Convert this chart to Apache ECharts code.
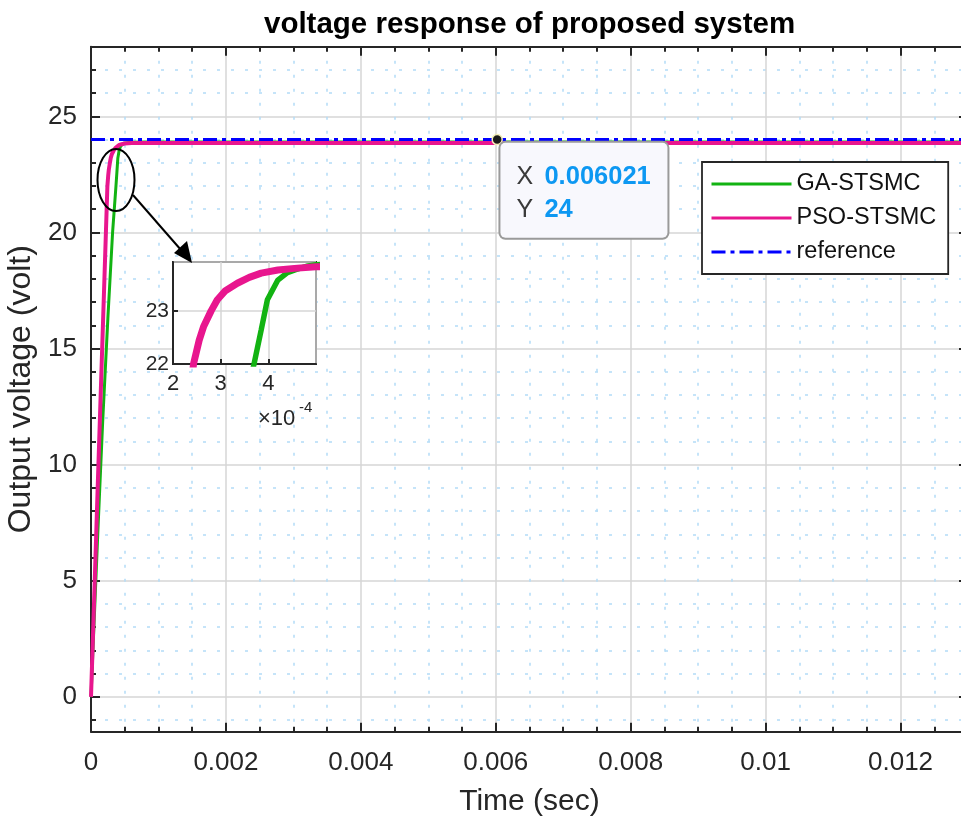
<!DOCTYPE html>
<html>
<head>
<meta charset="utf-8">
<script src="https://cdn.jsdelivr.net/npm/echarts@6/dist/echarts.min.js"></script>
<style>
  html, body { margin: 0; padding: 0; background: #fff; }
  #main { width: 961px; height: 817px; }
</style>
</head>
<body>
<div id="main"></div>
<script>
// values
const gaTime = [0, 0.00005, 0.0001, 0.000173, 0.00025, 0.00032, 0.00037, 0.000385, 0.000398, 0.00042, 0.00044, 0.000456, 0.00048, 0.0005, 0.0006, 0.0008, 0.013];
const gaVolt = [0, 3.5, 7, 11.85, 16.3, 20, 22, 22.64, 23.21, 23.58, 23.72, 23.77, 23.84, 23.87, 23.89, 23.9, 23.9];
const psoTime = [0, 0.00005, 0.0001, 0.00015, 0.0002, 0.000243, 0.000255, 0.000264, 0.00028, 0.000293, 0.00031, 0.000335, 0.00036, 0.000385, 0.00042, 0.000455, 0.0005, 0.0006, 0.0008, 0.013];
const psoVolt = [0, 4.5, 9.1, 13.6, 18.1, 22, 22.45, 22.7, 23.0, 23.21, 23.38, 23.52, 23.63, 23.71, 23.77, 23.8, 23.83, 23.85, 23.85, 23.85];
const refTime = [0, 0.013];
const refVolt = [24, 24];
const seriesNames = ['GA-STSMC', 'PSO-STSMC', 'reference'];
const tipX = 0.006021;
const tipY = 24;

const ink = '#262626';
const font = '"Liberation Sans", Arial, Helvetica, sans-serif';
const pairs = (xs, ys) => xs.map((x, i) => [x, ys[i]]);

const gaData = pairs(gaTime, gaVolt);
const psoData = pairs(psoTime, psoVolt);
const refData = pairs(refTime, refVolt);

const chart = echarts.init(document.getElementById('main'), null, { renderer: 'canvas' });

const frameLine = { show: true, onZero: false, lineStyle: { color: ink, width: 2 } };
const majorGrid = { show: true, lineStyle: { color: '#d6d6d6', width: 1.5 } };
const minorGrid = { show: true, lineStyle: { color: '#b3dcf7', width: 1.5, type: [3, 11] } };

// main x axis (bottom + top copy for the box)
const mainX = {
    type: 'value', gridIndex: 0, min: 0, max: 0.013, interval: 0.002,
    axisLine: frameLine,
    axisTick: { show: true, inside: true, length: 9, lineStyle: { color: ink, width: 2 } },
    minorTick: { show: true, splitNumber: 4, length: 5, lineStyle: { color: ink, width: 2 } },
    axisLabel: { show: true, color: ink, fontSize: 26, margin: 18, fontFamily: font, showMaxLabel: false },
    splitLine: majorGrid,
    minorSplitLine: minorGrid,
    name: 'Time (sec)', nameLocation: 'middle', nameGap: 55,
    nameTextStyle: { color: ink, fontSize: 30, fontFamily: font }
};
const topX = Object.assign({}, mainX, {
    position: 'top', axisLabel: { show: false }, splitLine: { show: false },
    minorSplitLine: { show: false }, name: ''
});
const mainY = {
    type: 'value', gridIndex: 0, min: -1.5, max: 28, splitNumber: 6,
    axisLine: frameLine,
    axisTick: { show: true, inside: true, length: 9, lineStyle: { color: ink, width: 2 } },
    minorTick: { show: true, splitNumber: 5, length: 5, lineStyle: { color: ink, width: 2 } },
    axisLabel: {
        show: true, color: ink, fontSize: 26, margin: 14, fontFamily: font,
        formatter: v => (Math.abs(v % 5) < 1e-9 ? String(v) : '')
    },
    splitLine: majorGrid,
    minorSplitLine: minorGrid,
    name: 'Output voltage (volt)', nameLocation: 'middle', nameGap: 44,
    nameTextStyle: { color: ink, fontSize: 32, fontFamily: font }
};
const rightY = Object.assign({}, mainY, {
    position: 'right', axisLabel: { show: false }, splitLine: { show: false },
    minorSplitLine: { show: false }, name: ''
});

// inset axes
const insetX = {
    type: 'value', gridIndex: 1, min: 0.0002, max: 0.0005, interval: 0.0001, z: 4,
    axisLine: frameLine,
    axisTick: { show: true, inside: true, length: 5, lineStyle: { color: ink, width: 2 } },
    axisLabel: {
        color: ink, fontSize: 22, margin: 9, fontFamily: font, showMaxLabel: false,
        formatter: v => String(Math.round(v * 1e4))
    },
    splitLine: majorGrid
};
const insetY = {
    type: 'value', gridIndex: 1, min: 22, max: 23.92, interval: 1, z: 4,
    axisLine: frameLine,
    axisTick: { show: true, inside: true, length: 5, lineStyle: { color: ink, width: 2 } },
    axisLabel: { color: ink, fontSize: 21, margin: 4, fontFamily: font, showMaxLabel: false },
    splitLine: majorGrid
};

const option = {
    animation: false,
    backgroundColor: '#fff',
    textStyle: { fontFamily: font },
    title: {
        text: 'voltage response of proposed system',
        left: 264, top: 10, padding: 0,
        textStyle: { fontSize: 29.5, fontWeight: 'bold', color: '#000', fontFamily: font }
    },
    legend: {
        data: seriesNames,
        orient: 'vertical', left: 702, top: 162,
        padding: [10, 12, 10, 8], itemGap: 10,
        itemWidth: 80, itemHeight: 14,
        itemStyle: { opacity: 0 },
        lineStyle: { width: 3 },
        backgroundColor: '#fff', borderColor: ink, borderWidth: 1.8,
        textStyle: { fontSize: 23.5, color: '#111', fontFamily: font },
        z: 8
    },
    grid: [
        { left: 91, top: 46.7, width: 877, height: 685, outerBoundsMode: 'none', containLabel: false },
        { left: 173, top: 262, width: 143, height: 102, show: true, backgroundColor: '#fff',
          borderColor: ink, borderWidth: 2, z: 3, outerBoundsMode: 'none', containLabel: false }
    ],
    xAxis: [mainX, topX, insetX],
    yAxis: [mainY, rightY, insetY],
    series: [
        { name: seriesNames[0], type: 'line', xAxisIndex: 0, yAxisIndex: 0, data: gaData,
          symbol: 'none', lineStyle: { color: '#12b312', width: 3 }, itemStyle: { color: '#12b312' } },
        { name: seriesNames[1], type: 'line', xAxisIndex: 0, yAxisIndex: 0, data: psoData,
          symbol: 'none', lineStyle: { color: '#e8168e', width: 4 }, itemStyle: { color: '#e8168e' } },
        { name: seriesNames[2], type: 'line', xAxisIndex: 0, yAxisIndex: 0, data: refData,
          symbol: 'none', lineStyle: { color: '#0000ff', width: 3, type: [14, 5, 4, 5] },
          itemStyle: { color: '#0000ff' },
          markPoint: {
              symbol: 'circle', symbolSize: 10, z: 9,
              itemStyle: { color: '#1a1a1a', borderColor: '#f3edb8', borderWidth: 1.5 },
              data: [{ coord: [tipX, tipY] }],
              label: {
                  show: true, position: [9, 9],
                  formatter: () => '{k|X}{v|' + tipX + '}\n{k|Y}{v|' + tipY + '}',
                  backgroundColor: '#f8f8fd', borderColor: '#9a9a9a', borderWidth: 2, borderRadius: 5,
                  padding: [18, 14, 11, 16], lineHeight: 33,
                  rich: {
                      k: { width: 28, fontSize: 25, color: '#3a3a3a', fontFamily: font, lineHeight: 33 },
                      v: { width: 109, fontSize: 25.5, fontWeight: 'bold', color: '#0d98f2', fontFamily: font, lineHeight: 33 }
                  }
              }
          } },
        { name: seriesNames[0], type: 'line', xAxisIndex: 2, yAxisIndex: 2, data: gaData, z: 5,
          symbol: 'none', clip: true, lineStyle: { color: '#12b312', width: 5.5 }, itemStyle: { color: '#12b312' } },
        { name: seriesNames[1], type: 'line', xAxisIndex: 2, yAxisIndex: 2, data: psoData, z: 5,
          symbol: 'none', clip: true, lineStyle: { color: '#e8168e', width: 7 }, itemStyle: { color: '#e8168e' } }
    ],
    graphic: [
        { type: 'ellipse', z: 10, shape: { cx: 116, cy: 180, rx: 18.5, ry: 31 },
          style: { fill: 'none', stroke: '#000', lineWidth: 2 } },
        { type: 'line', z: 10, shape: { x1: 133, y1: 195, x2: 181, y2: 250 },
          style: { stroke: '#000', lineWidth: 2 } },
        { type: 'polygon', z: 10, shape: { points: [[192, 263], [174, 253], [187, 241]] },
          style: { fill: '#000' } },
        { type: 'text', z: 10, left: 258, top: 408,
          style: { text: '×10', fontSize: 22, fill: ink, fontFamily: font } },
        { type: 'text', z: 10, left: 299, top: 400,
          style: { text: '-4', fontSize: 15, fill: ink, fontFamily: font } }
    ]
};

chart.setOption(option);
</script>
</body>
</html>
